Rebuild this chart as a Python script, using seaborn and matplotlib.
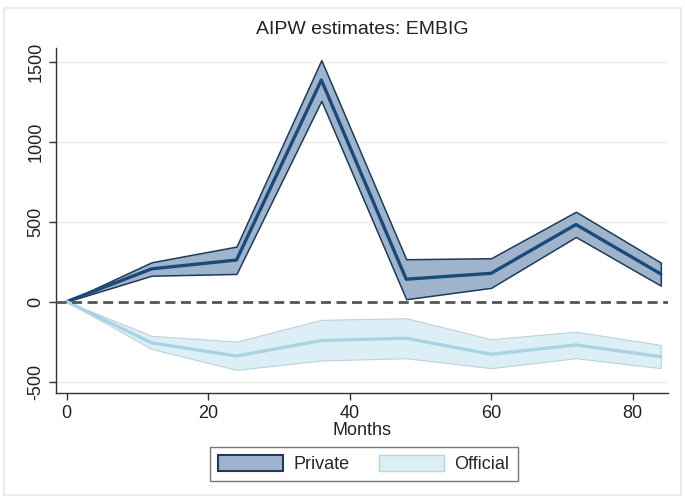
import numpy as np
import pandas as pd
import matplotlib
matplotlib.use("Agg")
import matplotlib.pyplot as plt
from matplotlib.patches import Patch
import seaborn as sns

months = [0, 12, 24, 36, 48, 60, 72, 84]
private_est = [0, 205, 260, 1385, 140, 177, 482, 173]
private_lo = [0, 162, 173, 1255, 15, 86, 404, 100]
private_hi = [0, 246, 344, 1510, 265, 271, 562, 244]
official_est = [0, -258, -340, -243, -229, -329, -271, -344]
official_lo = [0, -296, -427, -368, -354, -416, -354, -416]
official_hi = [0, -214, -250, -114, -104, -235, -188, -271]

df = pd.DataFrame({
    "Months": months * 2,
    "Estimate": private_est + official_est,
    "Group": ["Private"] * len(months) + ["Official"] * len(months),
})

sns.set_style("white")
plt.rcParams['font.family'] = ['Liberation Sans', 'DejaVu Sans']
plt.rcParams['axes.unicode_minus'] = False

fig = plt.figure(figsize=(6.85, 5.01), dpi=100)
ax = fig.add_axes([0.082, 0.216, 0.893, 0.688])

priv_fill = "#9fb4cc"
priv_edge = "#1d3a5c"
priv_line = "#1b4a78"
off_fill = "#dceff6"
off_edge = "#bcd2dc"
off_line = "#a9d3e3"

for yv in [-500, 500, 1000, 1500]:
    ax.axhline(yv, color="#ececec", lw=1.0, zorder=0)

ax.fill_between(months, official_lo, official_hi, facecolor=off_fill,
                edgecolor=off_edge, lw=0.8, zorder=1)
ax.fill_between(months, private_lo, private_hi, facecolor=priv_fill,
                edgecolor=priv_edge, lw=1.1, zorder=2)

sns.lineplot(data=df, x="Months", y="Estimate", hue="Group",
             palette={"Private": priv_line, "Official": off_line},
             lw=2.4, ax=ax, legend=False, zorder=3)

ax.axhline(0, color="#555555", lw=2.0, ls=(0, (3.6, 2.0)), zorder=4)

ax.set_xlim(-1.5, 85)
ax.set_ylim(-570, 1585)
ax.set_xticks([0, 20, 40, 60, 80])
ax.set_yticks([-500, 0, 500, 1000, 1500])
ax.tick_params(axis="both", labelsize=13, length=5, width=1.0,
               color="#333333", labelcolor="#222222", direction="out",
               left=True, bottom=True)
for lab in ax.get_yticklabels():
    lab.set_rotation(90)
    lab.set_va("center")
ax.set_xlabel("Months", fontsize=13, color="#222222", labelpad=0)
ax.set_ylabel("")
ax.set_title("AIPW estimates: EMBIG", fontsize=14, color="#222222", pad=10)

for s in ["top", "right"]:
    ax.spines[s].set_visible(False)
for s in ["left", "bottom"]:
    ax.spines[s].set_color("#333333")
    ax.spines[s].set_linewidth(1.0)

handles = [Patch(facecolor=priv_fill, edgecolor=priv_edge, lw=1.5, label="Private"),
           Patch(facecolor=off_fill, edgecolor=off_edge, lw=1.0, label="Official")]
leg = fig.legend(handles=handles, loc="center", bbox_to_anchor=(0.531, 0.074),
                 ncol=2, frameon=True, fancybox=False, fontsize=13,
                 handlelength=3.6, handleheight=1.0, columnspacing=1.6,
                 handletextpad=0.6, borderpad=0.45)
leg.get_frame().set_edgecolor("#555555")
leg.get_frame().set_linewidth(1.0)

fig.patches.append(plt.Rectangle((0.006, 0.012), 0.988, 0.972, transform=fig.transFigure,
                                 fill=False, edgecolor="#e6ecef", lw=1.5))

fig.savefig("out.png", dpi=100)
